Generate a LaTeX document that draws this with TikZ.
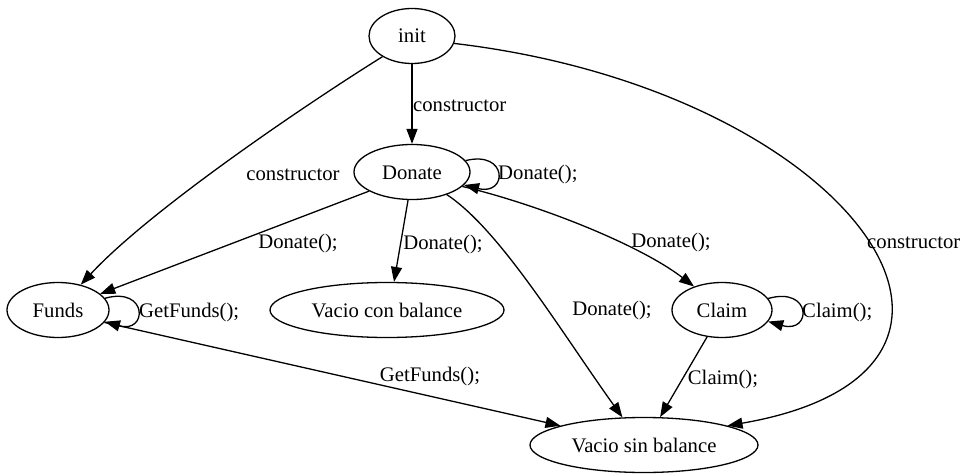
\documentclass[tikz,border=0pt]{standalone}
\usepackage{fontspec}
\setmainfont{Liberation Serif}
\newfontfamily\lserif{Liberation Serif}
\usetikzlibrary{shapes.geometric,arrows.meta}
\begin{document}
\begin{tikzpicture}[x=1pt,y=-1pt,
  st/.style={draw, ellipse, line width=1.3pt, inner sep=0pt, minimum height=55pt,
    text height=14pt, text depth=0pt, font=\lserif\fontsize{20.7}{24}\selectfont},
  lbl/.style={inner sep=0pt, text height=14pt, text depth=0pt, font=\lserif\fontsize{20.7}{24}\selectfont},
  conn/.style={line width=1.3pt, -{Triangle[length=15pt,width=11pt]}}
]
\useasboundingbox (0,0) rectangle (966,476);
\node[st, minimum width=86pt] (init) at (412,36) {init};
\node[st, minimum width=116pt] (donate) at (412,172) {Donate};
\node[st, minimum width=102pt] (funds) at (58,310) {Funds};
\node[st, minimum width=234pt] (vcb) at (387,310) {Vacio con balance};
\node[st, minimum width=100pt] (claim) at (722,310) {Claim};
\node[st, minimum width=228pt] (vsb) at (644,445) {Vacio sin balance};

\draw[conn] (init) -- (donate);
\draw[conn] (init.215) .. controls (305,105) and (150,210) .. (funds.48);
\draw[conn] (init.-10) .. controls (850,90) and (1050,370) .. (vsb.13);
\draw[conn] (donate.204) -- (funds.21);
\draw[conn] (donate.-98) -- (vcb.76);
\draw[conn] (donate.-33) .. controls (500,230) and (560,330) .. (vsb.128);
\draw[conn] (donate.-16) .. controls (540,205) and (640,245) .. (claim.140);
\draw[conn] (claim.-119) -- (vsb.60);
\draw[conn] (funds.-15) -- (vsb.167);
\draw[conn] (donate.12) .. controls (508,150) and (508,196) .. (donate.-14);
\draw[conn] (funds.14) .. controls (148,286) and (148,334) .. (funds.-14);
\draw[conn] (claim.14) .. controls (812,286) and (812,334) .. (claim.-14);

\node[lbl, anchor=west] (l1) at (413,105) {constructor};
\node[lbl] (l2) at (293,173) {constructor};
\node[lbl, anchor=west] (l3) at (867,241) {constructor};
\node[lbl, anchor=west] (l4) at (498,172) {Donate();};
\node[lbl] (l5) at (298,241) {Donate();};
\node[lbl] (l6) at (443,242) {Donate();};
\node[lbl] (l7) at (612,308) {Donate();};
\node[lbl] (l8) at (671,240) {Donate();};
\node[lbl, anchor=west] (l9) at (139,310) {GetFunds();};
\node[lbl] (l10) at (430,374) {GetFunds();};
\node[lbl, anchor=west] (l11) at (802,310) {Claim();};
\node[lbl] (l12) at (723,377) {Claim();};
\end{tikzpicture}
\end{document}
